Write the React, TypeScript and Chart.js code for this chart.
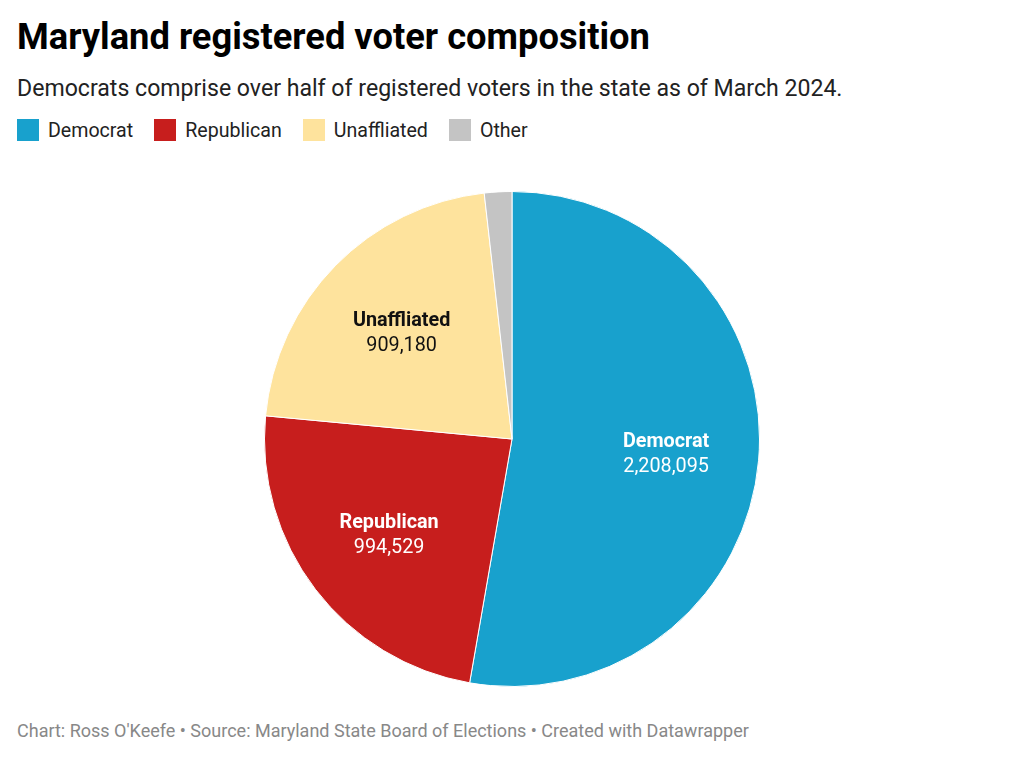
import React, { useEffect, useRef } from "react";
import { Chart, registerables } from "chart.js";

Chart.register(...registerables);

const categories = ["Democrat", "Republican", "Unaffliated", "Other"];
const voters = [2208095, 994529, 909180, 75000];
const sliceColors = ["#18a1cd", "#c71e1d", "#fee39d", "#c4c4c4"];
const labelColors = ["#ffffff", "#ffffff", "#111111", ""];
const showLabel = [true, true, true, false];

const FONT = "Roboto, 'Noto Sans', sans-serif";

const sliceLabels = {
  id: "sliceLabels",
  afterDatasetsDraw(chart: any) {
    const ctx = chart.ctx;
    const meta = chart.getDatasetMeta(0);
    meta.data.forEach((arc: any, i: number) => {
      if (!showLabel[i]) return;
      const { x, y, startAngle, endAngle, outerRadius } = arc.getProps(
        ["x", "y", "startAngle", "endAngle", "outerRadius"],
        true
      );
      const mid = (startAngle + endAngle) / 2;
      const r = outerRadius * 0.625;
      const cx = x + Math.cos(mid) * r;
      const cy = y + Math.sin(mid) * r;
      ctx.save();
      ctx.fillStyle = labelColors[i];
      ctx.textAlign = "center";
      ctx.textBaseline = "middle";
      ctx.font = `bold 19.8px ${FONT}`;
      ctx.fillText(categories[i], cx, cy - 10);
      ctx.font = `19.8px ${FONT}`;
      ctx.fillText(voters[i].toLocaleString("en-US"), cx, cy + 15);
      ctx.restore();
    });
  },
};

export default function App() {
  const ref = useRef<HTMLCanvasElement | null>(null);

  useEffect(() => {
    document.body.style.margin = "0";
    if (!ref.current) return;
    const chart = new Chart(ref.current, {
      type: "pie",
      data: {
        labels: categories,
        datasets: [
          {
            data: voters,
            backgroundColor: sliceColors,
            borderColor: "#ffffff",
            borderWidth: 1,
          },
        ],
      },
      options: {
        animation: false,
        responsive: false,
        maintainAspectRatio: false,
        layout: { padding: 0 },
        plugins: {
          legend: { display: false },
          tooltip: { enabled: false },
        },
      },
      plugins: [sliceLabels],
    });
    return () => chart.destroy();
  }, []);

  const legendItem = (i: number) => (
    <div key={i} style={{ display: "flex", alignItems: "center", marginRight: 21 }}>
      <div style={{ width: 22, height: 22, background: sliceColors[i], marginRight: 9 }} />
      <span style={{ fontSize: 19.6, color: "#222" }}>{categories[i]}</span>
    </div>
  );

  return (
    <div
      style={{
        position: "relative",
        width: 1024,
        height: 758,
        background: "#fff",
        fontFamily: FONT,
        overflow: "hidden",
      }}
    >
      <div
        style={{
          position: "absolute",
          left: 17,
          top: 14,
          fontSize: 36.3,
          fontWeight: 700,
          color: "#000",
          lineHeight: "46px",
          whiteSpace: "nowrap",
        }}
      >
        Maryland registered voter composition
      </div>
      <div
        style={{
          position: "absolute",
          left: 17,
          top: 74,
          fontSize: 23.1,
          color: "#222",
          lineHeight: "30px",
          whiteSpace: "nowrap",
        }}
      >
        Democrats comprise over half of registered voters in the state as of March 2024.
      </div>
      <div
        style={{
          position: "absolute",
          left: 17,
          top: 119,
          display: "flex",
          alignItems: "center",
          height: 22,
        }}
      >
        {categories.map((_, i) => legendItem(i))}
      </div>
      <canvas
        ref={ref}
        width={1024}
        height={496}
        style={{ position: "absolute", left: 0, top: 191, width: 1024, height: 496 }}
      />
      <div
        style={{
          position: "absolute",
          left: 17,
          top: 719,
          fontSize: 18,
          color: "#888",
          lineHeight: "24px",
          whiteSpace: "nowrap",
        }}
      >
        Chart: Ross O'Keefe • Source: Maryland State Board of Elections • Created with Datawrapper
      </div>
    </div>
  );
}
